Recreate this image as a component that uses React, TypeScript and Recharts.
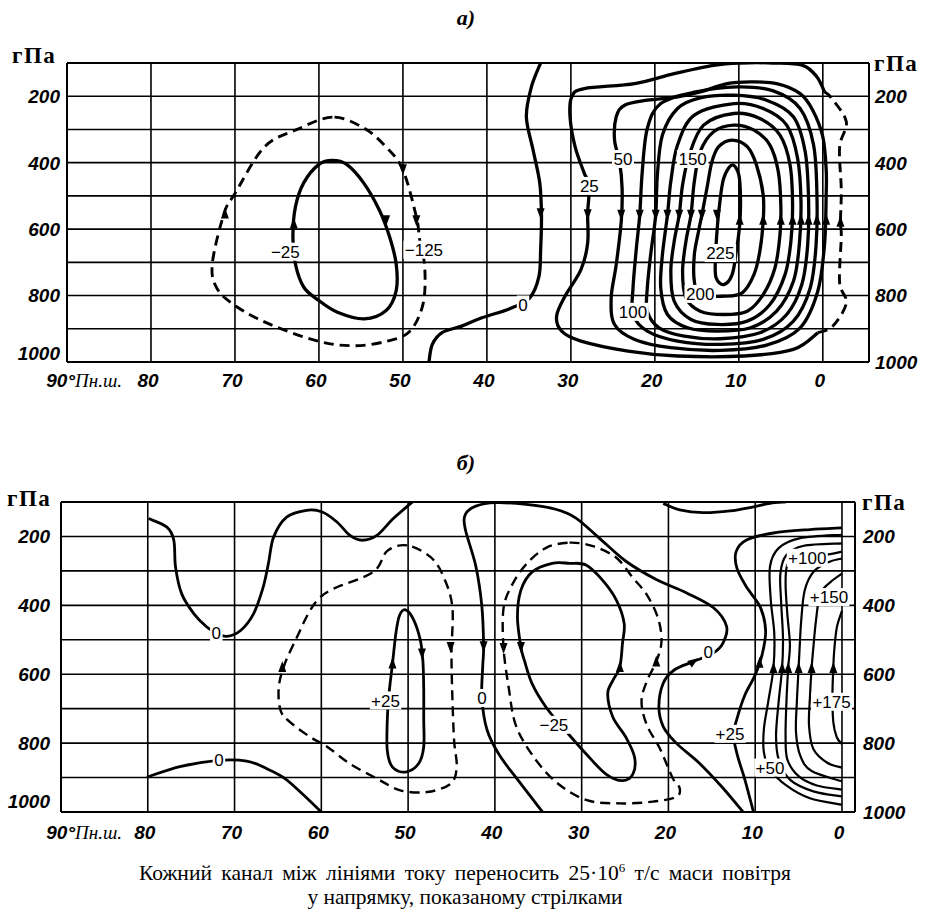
import { CartesianGrid, ComposedChart, Line, ReferenceLine, Scatter, XAxis, YAxis } from 'recharts'

const latTicks = [90, 80, 70, 60, 50, 40, 30, 20, 10, 0]
const pTicks = [100, 200, 300, 400, 500, 600, 700, 800, 900, 1000]

// panel a) — [lat, hPa]
const aZero = [[33.6, 100], [34.7, 172], [35.3, 262], [34.5, 362], [33.7, 462], [33.5, 562], [33.6, 662], [33.8, 742], [34.9, 807], [37.0, 837], [40.6, 867], [43.0, 892], [45.3, 911], [46.5, 947], [46.9, 1000]]
const aDashWest = [[58.4, 263], [62.6, 300], [66.5, 353], [70.0, 493], [71.3, 553], [72.7, 705], [72.1, 780], [69.7, 835], [65.8, 887], [60.0, 938], [55.8, 951], [52.0, 938], [49.2, 908], [47.6, 825], [47.4, 715], [48.0, 632], [48.4, 563], [50.0, 422], [52.0, 353], [54.7, 295]]
const aMinus25 = [[58.4, 393], [60.0, 405], [61.8, 460], [62.8, 533], [63.1, 622], [62.8, 705], [61.8, 775], [60.0, 815], [57.8, 850], [54.6, 870], [52.0, 845], [50.8, 785], [50.8, 705], [51.6, 622], [52.8, 543], [54.7, 460], [56.7, 405]]
const a25 = [[-0.2, 187], [0.7, 142], [2.4, 107], [5.9, 100], [9.8, 100], [13.0, 107], [17.7, 132], [22.4, 162], [28.4, 177], [29.9, 202], [30.1, 262], [29.5, 352], [28.4, 432], [27.8, 467], [28.0, 552], [28.0, 642], [28.8, 722], [30.7, 802], [31.7, 862], [31.1, 907], [28.8, 937], [23.2, 967], [17.3, 982], [9.4, 982], [3.5, 962], [0.6, 912]]
const a25Dash = [[0.6, 912], [-1.2, 892], [-2.8, 822], [-2.0, 761], [-2.2, 622], [-2.1, 578], [-2.2, 482], [-2.0, 353], [-2.8, 277], [-1.0, 205], [-0.2, 187]]
const a50 = [[8.6, 157], [5.5, 162], [2.7, 192], [1.2, 242], [0.0, 322], [-0.4, 420], [-0.4, 497], [-0.2, 647], [0.6, 787], [2.7, 897], [6.7, 949], [12.2, 965], [18.1, 957], [22.4, 932], [24.8, 887], [25.2, 807], [24.6, 707], [24.0, 577], [23.9, 477], [24.2, 397], [24.8, 332], [24.6, 262], [23.6, 227], [20.9, 212], [17.3, 202], [14.6, 187], [11.4, 162]]
const a75 = [[10.2, 172], [5.9, 184], [2.7, 237], [1.1, 347], [0.7, 497], [0.8, 647], [1.5, 777], [3.5, 877], [7.1, 932], [12.2, 947], [17.3, 937], [20.9, 907], [22.6, 857], [22.6, 777], [22.2, 657], [21.8, 557], [21.5, 427], [20.9, 297], [19.3, 222], [15.3, 188]]
const a100 = [[10.6, 197], [6.7, 212], [3.5, 262], [2.1, 367], [1.7, 507], [1.8, 647], [2.5, 767], [4.3, 857], [7.5, 912], [12.2, 930], [16.5, 922], [19.5, 897], [20.9, 847], [20.9, 777], [20.5, 677], [19.9, 557], [19.7, 437], [19.1, 317], [17.3, 237], [14.6, 205]]
const a125 = [[10.6, 222], [7.1, 237], [4.3, 287], [3.0, 387], [2.6, 517], [2.8, 647], [3.5, 757], [5.5, 847], [8.6, 897], [12.6, 907], [16.1, 897], [18.5, 857], [19.3, 777], [19.1, 677], [18.5, 557], [18.1, 457], [17.3, 347], [15.3, 257]]
const a150 = [[10.6, 252], [7.5, 267], [5.1, 317], [3.9, 407], [3.6, 527], [3.8, 637], [4.5, 737], [6.3, 827], [9.0, 877], [12.6, 887], [15.7, 872], [17.7, 817], [18.1, 727], [17.7, 637], [17.1, 557], [16.7, 467], [15.9, 377], [14.2, 287]]
const a175 = [[10.6, 287], [8.2, 302], [6.3, 347], [5.3, 427], [5.0, 527], [5.1, 617], [5.7, 717], [7.1, 797], [9.0, 847], [11.8, 857], [14.6, 847], [16.3, 807], [16.7, 727], [16.3, 637], [15.7, 557], [15.3, 457], [14.6, 367], [13.0, 307]]
const a200 = [[10.8, 332], [9.0, 352], [7.9, 407], [7.1, 497], [7.1, 577], [7.5, 667], [8.2, 737], [9.6, 792], [11.8, 802], [14.6, 797], [15.3, 757], [15.3, 677], [14.8, 607], [14.4, 557], [13.8, 477], [13.2, 397], [12.4, 352]]
const a225 = [[10.8, 407], [10.0, 437], [9.8, 507], [9.9, 587], [10.3, 667], [10.8, 737], [11.8, 767], [12.7, 747], [12.8, 697], [12.6, 607], [12.3, 527], [11.8, 447]]

// [text, lat, hPa]
const aLabels = [['25', 27.8, 470], ['50', 23.8, 389], ['150', 15.5, 389], ['225', 12.2, 672], ['200', 14.6, 795], ['100', 22.6, 849], ['0', 35.7, 827], ['−25', 64.0, 668], ['−125', 47.5, 662]]
// [lat, hPa, heading in degrees, 90 = downward]
const aArrows = [
  [28.0, 555, 90], [24.0, 557, 90], [21.8, 557, 90], [19.9, 557, 90], [18.5, 557, 90], [17.1, 557, 90], [15.7, 557, 90], [14.4, 557, 90], [12.6, 557, 90],
  [9.9, 572, -90], [7.1, 572, -90], [5.0, 572, -90], [3.6, 572, -90], [2.6, 572, -90], [1.7, 572, -90], [0.7, 572, -90], [-0.4, 572, -90],
  [-2.1, 578, -90], [33.6, 552, 90],
  [71.2, 553, -90], [48.4, 573, 90], [50.0, 420, 90], [63.0, 583, -90], [52.0, 573, 90],
]

// panel б)
const bZeroTop = [[79.9, 148], [77.8, 173], [77.0, 211], [76.8, 289], [76.1, 366], [74.7, 424], [73.2, 463], [72.1, 480], [70.9, 490], [69.3, 473], [67.8, 424], [66.7, 347], [66.1, 279], [65.5, 202], [64.0, 144], [61.7, 124], [59.9, 129], [58.2, 158], [56.7, 197], [55.3, 211], [53.6, 197], [51.7, 148], [49.5, 100]]
const bZeroLow = [[80.1, 899], [76.3, 868], [71.8, 850], [68.6, 852], [66.3, 874], [64.3, 901], [62.2, 947], [60.0, 1000]]
const bDashWest = [[50.1, 226], [52.4, 242], [54.0, 303], [58.6, 352], [60.3, 381], [61.5, 424], [62.8, 492], [64.2, 569], [64.9, 637], [64.7, 705], [63.6, 739], [61.3, 782], [59.3, 811], [56.7, 860], [53.6, 903], [50.9, 937], [47.8, 942], [45.1, 918], [44.4, 870], [44.7, 792], [44.9, 666], [45.0, 540], [44.9, 405], [45.9, 318], [47.4, 260]]
const bPlus25West = [[50.3, 413], [49.4, 440], [48.6, 500], [48.3, 560], [48.2, 640], [48.2, 730], [48.2, 811], [48.8, 860], [50.3, 884], [51.8, 870], [52.4, 821], [52.4, 734], [52.2, 657], [51.8, 569], [51.4, 480], [51.0, 430]]
const bZeroMid = [[34.5, 1000], [37.2, 912], [39.5, 834], [40.9, 762], [41.5, 669], [41.4, 577], [41.3, 519], [41.5, 403], [42.2, 286], [43.4, 180], [43.4, 136], [42.2, 112], [39.9, 102], [36.4, 107], [33.0, 121], [30.7, 146], [28.0, 204], [24.9, 272], [21.4, 325], [17.9, 364], [14.8, 407], [13.3, 461], [13.7, 509], [14.8, 538], [17.1, 563], [19.3, 587], [20.6, 626], [21.1, 694], [20.6, 752], [19.1, 800], [16.4, 859], [13.7, 931], [11.4, 1000]]
const bDashMid = [[31.4, 218], [28.7, 228], [26.0, 262], [24.1, 320], [22.5, 369], [21.2, 437], [20.8, 505], [21.4, 563], [22.5, 621], [23.1, 679], [22.5, 747], [21.0, 815], [19.5, 902], [18.7, 931], [19.1, 956], [21.8, 970], [25.6, 975], [29.5, 965], [33.0, 912], [35.7, 834], [37.6, 747], [38.4, 640], [39.0, 524], [39.0, 408], [38.0, 340], [36.4, 281], [34.1, 233]]
const bMinus25 = [[31.4, 278], [29.5, 283], [27.6, 327], [26.0, 385], [25.1, 453], [25.3, 511], [25.6, 579], [26.4, 618], [27.0, 657], [26.4, 725], [24.9, 783], [23.9, 841], [24.1, 890], [25.3, 909], [27.2, 890], [29.5, 831], [32.2, 754], [34.1, 696], [35.7, 628], [36.6, 560], [37.0, 521], [37.4, 434], [37.0, 356], [35.7, 303], [33.4, 278]]
const bTop = [[20.6, 104], [18.7, 123], [16.0, 131], [12.9, 126], [10.2, 114], [8.3, 104], [6.5, 100]]
const bPlus25 = [[0, 175], [3.7, 180], [7.9, 190], [11.0, 210], [12.2, 244], [12.1, 293], [11.0, 347], [9.4, 406], [8.8, 474], [9.2, 543], [10.0, 602], [11.2, 661], [12.1, 729], [12.5, 778], [12.0, 840], [11.2, 905], [10.2, 1000]]
const bPlus50 = [[0, 195], [4.8, 205], [7.3, 234], [8.3, 288], [8.2, 386], [7.8, 484], [7.9, 582], [8.5, 680], [9.0, 759], [9.0, 827], [8.3, 876], [6.3, 925], [3.7, 960], [0, 979]]
const bPlus75 = [[0, 220], [4.4, 227], [6.4, 254], [7.1, 308], [7.0, 396], [6.8, 494], [6.9, 582], [7.3, 680], [7.6, 778], [7.3, 847], [6.0, 906], [3.3, 940], [0, 955]]
const bPlus100 = [[0, 244], [2.1, 254], [5.2, 259], [6.3, 283], [6.5, 337], [6.3, 425], [6.0, 514], [6.2, 582], [6.4, 680], [6.5, 778], [6.3, 847], [5.0, 896], [2.9, 923], [0, 935]]
const bPlus125 = [[0, 264], [1.5, 274], [3.3, 303], [4.3, 357], [4.7, 445], [4.9, 533], [5.0, 582], [5.2, 680], [5.3, 768], [4.8, 837], [3.5, 881], [0, 911]]
const bPlus150 = [[0, 308], [1.3, 332], [2.5, 367], [3.0, 445], [3.3, 523], [3.5, 582], [3.7, 670], [3.8, 749], [3.3, 817], [1.7, 857], [0, 871]]
const bPlus175 = [[0, 416], [0.6, 465], [0.9, 533], [1.0, 582], [1.1, 661], [1.0, 739], [0.6, 783], [0, 803]]

const bLabels = [['0', 72.1, 480], ['0', 71.8, 850], ['+25', 52.6, 676], ['0', 41.5, 669], ['−25', 33.2, 747], ['0', 15.4, 536], ['+25', 12.9, 773], ['+50', 8.3, 871], ['+100', 4.0, 262], ['+150', 1.5, 376], ['+175', 1.2, 680]]
const bArrows = [
  [64.5, 579, -90], [45.1, 521, 90], [51.8, 569, -90], [48.4, 540, 90],
  [41.3, 519, 90], [17.1, 563, -35], [39.0, 524, 90], [21.4, 563, -90], [37.0, 521, 90], [25.6, 579, -90],
  [9.5, 567, -90], [7.9, 582, -90], [6.9, 582, -90], [6.2, 582, -90], [5.0, 582, -90], [3.5, 582, -90], [1.0, 582, -90],
]

const toPts = (arr: number[][]) => arr.map(([lat, p]) => ({ lat, p }))

// Catmull-Rom through the points, open or closed
function spline(closed: boolean) {
  return (ctx: any) => {
    let pts: number[][] = []
    return {
      areaStart() {},
      areaEnd() {},
      lineStart() {
        pts = []
      },
      point(x: number, y: number) {
        pts.push([+x, +y])
      },
      lineEnd() {
        const n = pts.length
        if (n < 2) return
        const at = (i: number) => (closed ? pts[(i + n) % n] : pts[Math.max(0, Math.min(n - 1, i))])
        ctx.moveTo(pts[0][0], pts[0][1])
        const segs = closed ? n : n - 1
        for (let i = 0; i < segs; i++) {
          const a = at(i - 1), b = at(i), c = at(i + 1), d = at(i + 2)
          ctx.bezierCurveTo(
            b[0] + (c[0] - a[0]) / 6, b[1] + (c[1] - a[1]) / 6,
            c[0] - (d[0] - b[0]) / 6, c[1] - (d[1] - b[1]) / 6,
            c[0], c[1],
          )
        }
        if (closed) ctx.closePath()
      },
    }
  }
}
const openCurve = spline(false)
const loopCurve = spline(true)

const seriesA = [
  { pts: aZero, closed: false, dashed: false },
  { pts: aDashWest, closed: true, dashed: true },
  { pts: aMinus25, closed: true, dashed: false },
  { pts: a25, closed: false, dashed: false },
  { pts: a25Dash, closed: false, dashed: true },
  { pts: a50, closed: true, dashed: false },
  { pts: a75, closed: true, dashed: false },
  { pts: a100, closed: true, dashed: false },
  { pts: a125, closed: true, dashed: false },
  { pts: a150, closed: true, dashed: false },
  { pts: a175, closed: true, dashed: false },
  { pts: a200, closed: true, dashed: false },
  { pts: a225, closed: true, dashed: false },
]

const seriesB = [
  { pts: bZeroTop, closed: false, dashed: false },
  { pts: bZeroLow, closed: false, dashed: false },
  { pts: bDashWest, closed: true, dashed: true },
  { pts: bPlus25West, closed: true, dashed: false },
  { pts: bZeroMid, closed: false, dashed: false },
  { pts: bDashMid, closed: true, dashed: true },
  { pts: bMinus25, closed: true, dashed: false },
  { pts: bTop, closed: false, dashed: false },
  { pts: bPlus25, closed: false, dashed: false },
  { pts: bPlus50, closed: false, dashed: false, thin: true },
  { pts: bPlus75, closed: false, dashed: false, thin: true },
  { pts: bPlus100, closed: false, dashed: false, thin: true },
  { pts: bPlus125, closed: false, dashed: false, thin: true },
  { pts: bPlus150, closed: false, dashed: false, thin: true },
  { pts: bPlus175, closed: false, dashed: false, thin: true },
]

const tickFont = { fontFamily: 'Liberation Sans, Arial, sans-serif', fontStyle: 'italic', fontWeight: 700, fontSize: 19 }

function renderArrow(props: any) {
  const { cx, cy, payload } = props
  return <path d="M6,0 L-5,-4 L-5,4 Z" transform={`translate(${cx},${cy}) rotate(${payload.dir})`} fill="#000" />
}

function renderLabel(props: any) {
  const { cx, cy, payload } = props
  const w = payload.text.length * 9.5 + 3
  return (
    <g>
      <rect x={cx - w / 2} y={cy - 9} width={w} height={18} fill="#fff" />
      <text x={cx} y={cy} dy="0.36em" textAnchor="middle" fontSize={17} fontFamily="Liberation Sans, Arial, sans-serif" fill="#000">
        {payload.text}
      </text>
    </g>
  )
}

function Panel(props: any) {
  const { top, height, left, right, minLat, series, labels, arrows, lineW, thinW, yGap, bottomShift, firstEnd, xDy } = props
  const yTick = (side: 'l' | 'r') => (t: any) => {
    const v = t.payload.value
    if (v % 200 !== 0) return <g />
    const shift = v === 1000 && side === 'l' ? bottomShift : 0
    return (
      <text x={t.x} y={t.y + shift} dy="0.36em" textAnchor={side === 'l' ? 'end' : 'start'} {...tickFont} fill="#000">
        {v}
      </text>
    )
  }
  const xTick = (t: any) => {
    const v = t.payload.value
    if (v === 90) {
      return (
        <text x={t.x + firstEnd} y={t.y + xDy} textAnchor="end" fill="#000">
          <tspan {...tickFont}>90°</tspan>
          <tspan fontFamily="Liberation Serif, serif" fontStyle="italic" fontSize={19}>Пн.ш.</tspan>
        </text>
      )
    }
    return (
      <text x={t.x - 3} y={t.y + xDy} textAnchor="middle" {...tickFont} fill="#000">
        {v}
      </text>
    )
  }
  return (
    <div style={{ position: 'absolute', left: 0, top }}>
      <ComposedChart width={928} height={height} margin={{ top: props.marginTop, right: 0, bottom: 0, left: 0 }}>
        <XAxis
          type="number"
          dataKey="lat"
          domain={[minLat, 90]}
          reversed
          allowDataOverflow
          ticks={latTicks}
          interval={0}
          height={height - props.marginTop - props.plotH}
          tickLine={false}
          tickSize={0}
          axisLine={{ stroke: '#000', strokeWidth: 2 }}
          tick={xTick}
        />
        <YAxis
          type="number"
          domain={[100, 1000]}
          reversed
          allowDataOverflow
          ticks={pTicks}
          interval={0}
          width={left}
          tickLine={false}
          tickSize={0}
          tickMargin={yGap[0]}
          axisLine={{ stroke: '#000', strokeWidth: 2 }}
          tick={yTick('l')}
        />
        <YAxis
          yAxisId="r"
          orientation="right"
          type="number"
          domain={[100, 1000]}
          reversed
          allowDataOverflow
          ticks={pTicks}
          interval={0}
          width={right}
          tickLine={false}
          tickSize={0}
          tickMargin={yGap[1]}
          axisLine={{ stroke: '#000', strokeWidth: 2 }}
          tick={yTick('r')}
        />
        <CartesianGrid stroke="#000" strokeWidth={1.6} fill="none" />
        <ReferenceLine y={100} stroke="#000" strokeWidth={2} />
        {series.map((s: any, i: number) => (
          <Line
            key={i}
            data={toPts(s.pts)}
            dataKey="p"
            type={s.closed ? loopCurve : openCurve}
            stroke="#000"
            strokeWidth={s.thin ? thinW : s.dashed ? lineW - 0.4 : lineW}
            strokeDasharray={s.dashed ? '10 6' : undefined}
            dot={false}
            activeDot={false}
            isAnimationActive={false}
            legendType="none"
          />
        ))}
        <Scatter
          data={labels.map(([text, lat, p]: any[]) => ({ text, lat, p }))}
          dataKey="p"
          shape={renderLabel}
          isAnimationActive={false}
          legendType="none"
        />
        <Scatter
          data={arrows.map(([lat, p, dir]: number[]) => ({ lat, p, dir }))}
          dataKey="p"
          shape={renderArrow}
          isAnimationActive={false}
          legendType="none"
        />
      </ComposedChart>
    </div>
  )
}

const unitStyle = { fontFamily: 'Liberation Serif, serif', fontWeight: 700, fontSize: 23, letterSpacing: 1.5 }
const captionStyle = { fontFamily: 'Liberation Serif, Times New Roman, serif', fontSize: 21.5 }

export default function App() {
  return (
    <div style={{ position: 'absolute', left: 0, top: 0, width: 928, height: 920, background: '#fff' }}>
      <Panel
        top={0}
        height={400}
        marginTop={63}
        plotH={299}
        left={67}
        right={59}
        minLat={-5.5}
        series={seriesA}
        labels={aLabels}
        arrows={aArrows}
        lineW={3.3}
        thinW={3.3}
        yGap={[7, 6]}
        bottomShift={-9}
        firstEnd={55}
        xDy={23}
      />
      <Panel
        top={440}
        height={410}
        marginTop={62}
        plotH={310}
        left={61}
        right={73}
        minLat={-1.5}
        series={seriesB}
        labels={bLabels}
        arrows={bArrows}
        lineW={2.8}
        thinW={2.2}
        yGap={[11, 8]}
        bottomShift={-11}
        firstEnd={61}
        xDy={25}
      />
      <svg width={928} height={920} style={{ position: 'absolute', left: 0, top: 0, pointerEvents: 'none' }}>
        <text x={466} y={25} textAnchor="middle" fontFamily="Liberation Serif, serif" fontStyle="italic" fontWeight={700} fontSize={22}>а)</text>
        <text x={466} y={470} textAnchor="middle" fontFamily="Liberation Serif, serif" fontStyle="italic" fontWeight={700} fontSize={22}>б)</text>
        <text x={12} y={63} {...unitStyle}>гПа</text>
        <text x={874} y={71} {...unitStyle}>гПа</text>
        <text x={7} y={506} {...unitStyle}>гПа</text>
        <text x={862} y={510} {...unitStyle}>гПа</text>
        <text x={465} y={880} textAnchor="middle" {...captionStyle} wordSpacing={4}>
          Кожний канал між лініями току переносить 25·10<tspan dy={-8} fontSize={13}>6</tspan>
          <tspan dy={8}> т/с маси повітря</tspan>
        </text>
        <text x={465} y={904} textAnchor="middle" {...captionStyle}>
          у напрямку, показаному стрілками
        </text>
      </svg>
    </div>
  )
}
